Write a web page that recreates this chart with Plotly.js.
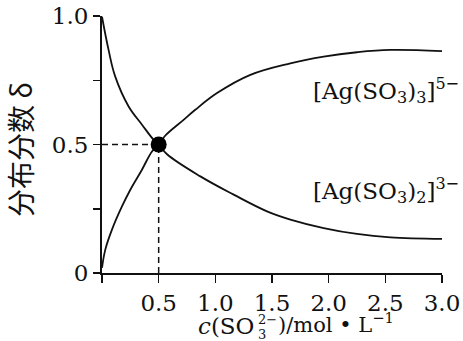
<!DOCTYPE html>
<html><head><meta charset="utf-8">
<script src="https://cdn.plot.ly/plotly-3.0.1.min.js"></script>
<style>html,body{margin:0;padding:0;background:#fff}#chart{width:463px;height:341px}</style>
</head><body><div id="chart"></div>
<script>
// Decreasing curve: [Ag(SO3)2]3-
const cA = [0, 0.058, 0.117, 0.235, 0.353, 0.456, 0.5, 0.574, 0.868, 1.162, 1.456, 1.662, 1.956, 2.25, 2.545, 3.0];
const dA = [0.997, 0.868, 0.764, 0.648, 0.577, 0.518, 0.5, 0.462, 0.376, 0.305, 0.240, 0.208, 0.175, 0.152, 0.139, 0.133];
// Increasing curve: [Ag(SO3)3]5-
const cB = [0, 0.029, 0.088, 0.176, 0.25, 0.35, 0.441, 0.5, 0.559, 0.72, 0.823, 1.015, 1.309, 1.662, 1.956, 2.25, 2.545, 3.0];
const dB = [0.02, 0.091, 0.169, 0.259, 0.324, 0.40, 0.473, 0.5, 0.535, 0.596, 0.635, 0.700, 0.771, 0.816, 0.842, 0.859, 0.868, 0.863];
const crossX = [0.5];
const crossY = [0.5];
const xTicks = [0, 0.5, 1.0, 1.5, 2.0, 2.5, 3.0];
const xTickText = ['', '0.5', '1.0', '1.5', '2.0', '2.5', '3.0'];
const yTicks = [0, 0.25, 0.5, 0.75, 1.0];
const yTickText = ['0', '', '0.5', '', '1.0'];
const labelA = '[Ag(SO<sub>3</sub>)<sub>2</sub>]<sup>3−</sup>';
const labelB = '[Ag(SO<sub>3</sub>)<sub>3</sub>]<sup>5−</sup>';
const yTitle = '分布分数 δ';
const xTitleLeft = '<i>c</i>(SO';
const xTitleSup = '2−';
const xTitleSub = '3';
const xTitleRight = ')/mol • L<sup>−1</sup>';

const serif = 'DejaVu Serif';
const L = 101.7, T = 16, W = 340, H = 257.5;
const px = v => (v - L) / W;          // pixel x -> paper
const py = v => (T + H - v) / H;      // pixel y -> paper
const ink = '#111';
const traces = [
  {x: cA, y: dA, mode: 'lines', line: {color: ink, width: 1.8, shape: 'spline', smoothing: 1.1}},
  {x: cB, y: dB, mode: 'lines', line: {color: ink, width: 1.8, shape: 'spline', smoothing: 1.1}},
  {x: [0, crossX[0]], y: [crossY[0], crossY[0]], mode: 'lines', line: {color: ink, width: 1.5, dash: '6px,4px'}},
  {x: [crossX[0], crossX[0]], y: [0, crossY[0]], mode: 'lines', line: {color: ink, width: 1.5, dash: '6px,4px'}},
  {x: crossX, y: crossY, mode: 'markers', marker: {color: '#000', size: 16}}
];
const txt = (text, x, y, size, xanchor, extra) => Object.assign({
  text, xref: 'paper', yref: 'paper', x: px(x), y: py(y), xanchor, yanchor: 'middle',
  showarrow: false, font: {family: serif, size, color: ink}}, extra || {});
const layout = {
  width: 463, height: 341,
  margin: {l: L, r: 463 - L - W, t: T, b: 341 - T - H},
  showlegend: false,
  paper_bgcolor: '#fff', plot_bgcolor: '#fff',
  font: {family: serif, color: ink, size: 23},
  xaxis: {
    range: [0, 3.0], showgrid: false, zeroline: false,
    showline: true, linecolor: ink, linewidth: 2,
    ticks: 'outside', ticklen: 8, tickwidth: 1.5, tickcolor: ink,
    tickvals: xTicks, ticktext: xTickText,
    tickfont: {family: serif, size: 23, color: ink}
  },
  yaxis: {
    range: [0, 1.0], showgrid: false, zeroline: false,
    showline: true, linecolor: ink, linewidth: 2,
    ticks: 'outside', ticklen: 7, tickwidth: 1.5, tickcolor: ink,
    tickvals: yTicks, ticktext: yTickText,
    tickfont: {family: serif, size: 23, color: ink}
  },
  annotations: [
    txt(labelB, 311, 91, 23, 'left'),
    txt(labelA, 311, 191, 23, 'left'),
    txt(yTitle, 19, 150, 28, 'center', {textangle: -90, font: {family: 'Noto Sans CJK SC', size: 28, color: ink}}),
    txt(xTitleLeft, 256, 327, 23, 'right'),
    txt(xTitleSup, 256, 320, 13, 'left'),
    txt(xTitleSub, 256, 335, 13, 'left'),
    txt(xTitleRight, 276, 324, 21, 'left')
  ]
};
Plotly.newPlot('chart', traces, layout, {staticPlot: true, displayModeBar: false});
</script></body></html>
